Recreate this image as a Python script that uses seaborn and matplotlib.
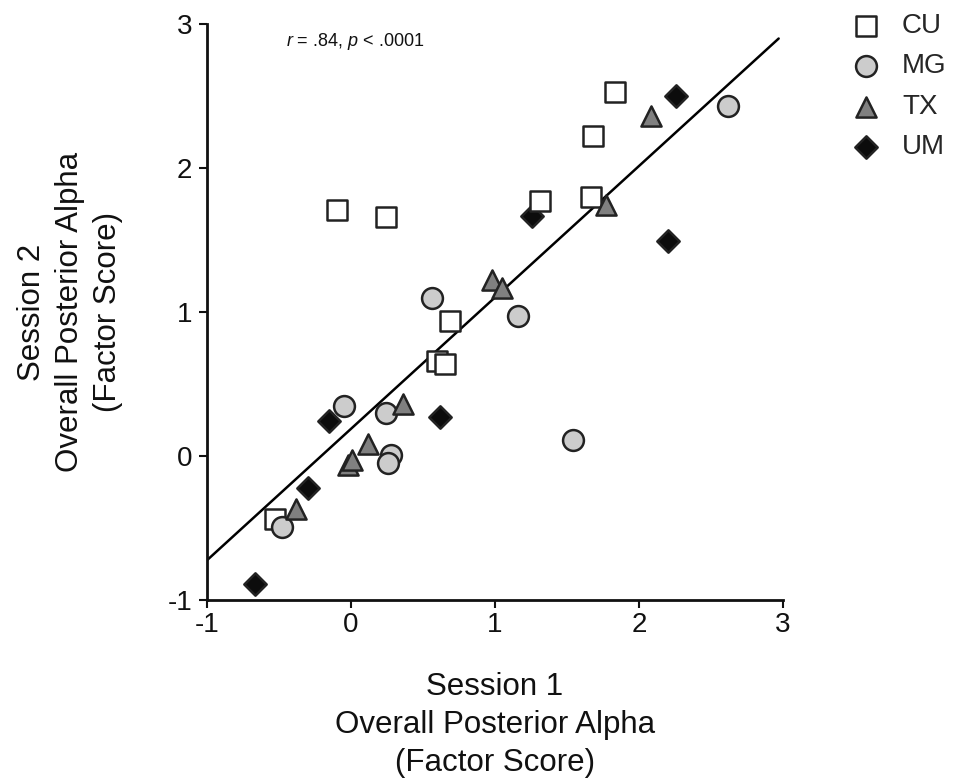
import numpy as np
import pandas as pd
import matplotlib
matplotlib.use("Agg")
import matplotlib.pyplot as plt
import seaborn as sns

# Factor scores per site: Session 1 (x) vs Session 2 (y)
cu_s1 = [-0.53, -0.10, 0.24, 0.60, 0.65, 0.69, 1.31, 1.67, 1.68, 1.83]
cu_s2 = [-0.44, 1.71, 1.66, 0.66, 0.64, 0.94, 1.77, 1.80, 2.22, 2.53]

mg_s1 = [-0.48, -0.05, 0.24, 0.28, 0.26, 0.56, 1.16, 1.54, 2.62]
mg_s2 = [-0.49, 0.35, 0.30, 0.01, -0.05, 1.10, 0.97, 0.11, 2.43]

tx_s1 = [-0.38, -0.02, 0.01, 0.12, 0.36, 0.98, 1.05, 1.77, 2.08]
tx_s2 = [-0.37, -0.06, -0.03, 0.08, 0.36, 1.22, 1.17, 1.74, 2.36]

um_s1 = [-0.67, -0.30, -0.15, 0.62, 1.26, 2.20, 2.26]
um_s2 = [-0.89, -0.22, 0.24, 0.27, 1.67, 1.49, 2.50]

sites = ["CU", "MG", "TX", "UM"]
ticks = [-1, 0, 1, 2, 3]
stats_label = r"$r$ = .84, $p$ < .0001"

df = pd.DataFrame({
    "site": ["CU"] * len(cu_s1) + ["MG"] * len(mg_s1)
            + ["TX"] * len(tx_s1) + ["UM"] * len(um_s1),
    "s1": cu_s1 + mg_s1 + tx_s1 + um_s1,
    "s2": cu_s2 + mg_s2 + tx_s2 + um_s2,
})

sns.set_style("ticks")
plt.rcParams["font.family"] = ["Liberation Sans", "DejaVu Sans"]
plt.rcParams["mathtext.fontset"] = "custom"
plt.rcParams["mathtext.rm"] = "Liberation Sans"
plt.rcParams["mathtext.it"] = "Liberation Sans:italic"

fig = plt.figure(figsize=(9.57, 7.83), dpi=100)
ax = fig.add_axes([207 / 957, 1 - 600 / 783, 576 / 957, 576 / 783])

# least-squares fit over all sites
slope, intercept = np.polyfit(df["s1"], df["s2"], 1)
fit_x = np.array([-1.0, 2.97])
ax.plot(fit_x, intercept + slope * fit_x, color="black", lw=1.8, zorder=1)

style = {
    "CU": dict(marker="s", color="white", s=220),
    "MG": dict(marker="o", color="#cccccc", s=225),
    "TX": dict(marker="^", color="#808080", s=210),
    "UM": dict(marker="D", color="#0c0c0c", s=130),
}
draw_order = ["UM", "CU", "MG", "TX"]
for site in draw_order:
    sub = df[df["site"] == site]
    st = style[site]
    sns.scatterplot(data=sub, x="s1", y="s2", ax=ax, marker=st["marker"],
                    color=st["color"], s=st["s"], edgecolor="#222222",
                    linewidth=1.8, label=site, zorder=3)

ax.set_xlim(-1, 3)
ax.set_ylim(-1, 3)
ax.set_xticks(ticks)
ax.set_yticks(ticks)
ax.set_xticklabels([str(t) for t in ticks])
ax.set_yticklabels([str(t) for t in ticks])
for side in ["top", "right"]:
    ax.spines[side].set_visible(False)
for side in ["left", "bottom"]:
    ax.spines[side].set_linewidth(2.0)
    ax.spines[side].set_color("#111111")
ax.tick_params(axis="both", direction="out", length=5.5, width=1.5,
               labelsize=20, colors="#111111")
ax.tick_params(axis="y", pad=5)
ax.tick_params(axis="x", pad=3)

ax.set_xlabel("Session 1\nOverall Posterior Alpha\n(Factor Score)",
              fontsize=22.5, linespacing=1.34, va="center", color="#111111")
ax.xaxis.set_label_coords(0.5, (600 - 725) / 576)
ax.set_ylabel("Session 2\nOverall Posterior Alpha\n(Factor Score)",
              fontsize=22.5, linespacing=1.34, va="center", color="#111111")
ax.yaxis.set_label_coords((70 - 207) / 576, 0.5)

ax.text(-0.45, 2.88, stats_label, fontsize=13, va="center", ha="left",
        color="#111111")

h, l = ax.get_legend_handles_labels()
order = [l.index(s) for s in sites]
ax.legend([h[i] for i in order], [l[i] for i in order],
          loc="upper left", bbox_to_anchor=(852 / 957, 1 - 13 / 783),
          bbox_transform=fig.transFigure, frameon=False, fontsize=20,
          handlelength=1.0, handletextpad=0.8, labelspacing=0.52,
          borderpad=0, borderaxespad=0)

fig.savefig("out.png", dpi=100)
